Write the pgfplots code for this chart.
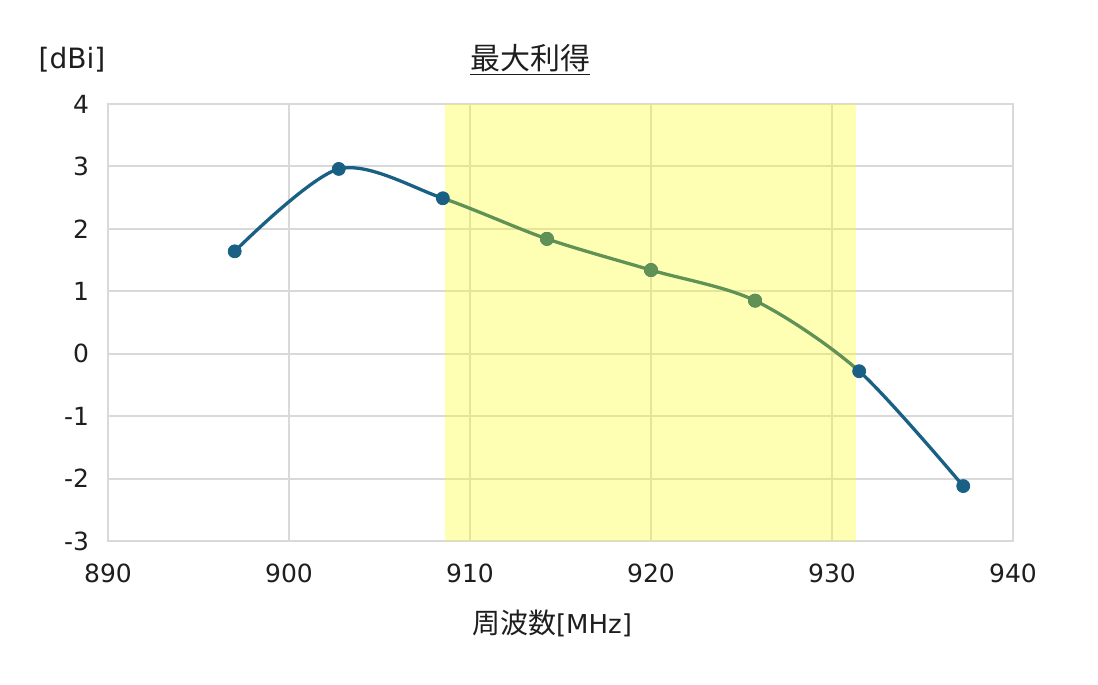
\documentclass[border=0pt]{standalone}
\usepackage{fontspec}
\setmainfont{Noto Sans CJK JP}
\newfontfamily\lat{DejaVu Sans}
\usepackage{pgfplots}
\pgfplotsset{compat=1.18}
\usepackage{pgfplotstable}
\definecolor{cblue}{RGB}{26,96,132}
\definecolor{cgreen}{RGB}{95,146,84}
\definecolor{cshade}{RGB}{255,255,34}
\definecolor{cgrid}{RGB}{217,217,217}
\definecolor{ctext}{RGB}{30,30,30}
\pgfplotstableread{
x y
897 1.64
902.75 2.96
908.5 2.49
914.25 1.84
920 1.34
925.75 0.85
931.5 -0.28
937.25 -2.12
}\gaindata
\pgfplotstableread{
x y
908.6 -3
931.3 -3
931.3 4
908.6 4
}\banddata
\pgfplotsset{
  curveaxis/.style={
    scale only axis, height=218.5pt, ymin=-3, ymax=4,
    axis lines=none, ticks=none, anchor=south west,
  },
}
\begin{document}
\begin{tikzpicture}
\path (-54pt,-72pt) rectangle (495pt,270.5pt);
\begin{axis}[
  scale only axis,
  width=452.5pt, height=218.5pt,
  xmin=890, xmax=940, ymin=-3, ymax=4,
  xtick={890,900,...,940}, ytick={-3,-2,...,4},
  grid=major,
  major grid style={draw=cgrid, line width=1pt},
  axis line style={draw=cgrid, line width=1pt},
  major tick length=0pt,
  tick label style={font=\lat\fontsize{12.5pt}{15pt}\selectfont, text=ctext},
  /pgf/number format/assume math mode=true,
  /pgf/number format/1000 sep={},
  xticklabel style={yshift=-8pt},
  yticklabel style={xshift=-6pt},
]
\addplot[fill=cshade, fill opacity=0.34, draw=none] table {\banddata} -- cycle;
\end{axis}
\begin{axis}[curveaxis, at={(0pt,0pt)}, width=167.425pt, xmin=890, xmax=908.5]
\addplot[cblue, line width=1.65pt, smooth, no marks] table {\gaindata};
\end{axis}
\begin{axis}[curveaxis, at={(167.425pt,0pt)}, width=208.15pt, xmin=908.5, xmax=931.5]
\addplot[cgreen, line width=1.65pt, smooth, no marks] table {\gaindata};
\end{axis}
\begin{axis}[curveaxis, at={(375.575pt,0pt)}, width=76.925pt, xmin=931.5, xmax=940]
\addplot[cblue, line width=1.65pt, smooth, no marks] table {\gaindata};
\end{axis}
\begin{axis}[
  scale only axis,
  width=452.5pt, height=218.5pt,
  xmin=890, xmax=940, ymin=-3, ymax=4,
  axis lines=none, ticks=none, clip=false,
]
\addplot[only marks, mark=*, mark size=3.25pt, cblue, mark options={fill=cblue, draw=cblue}] table {\gaindata};
\addplot[only marks, mark=*, mark size=3.25pt, cgreen, mark options={fill=cgreen, draw=cgreen}, restrict x to domain=910:930] table {\gaindata};
\end{axis}
\node[font=\fontsize{15pt}{18pt}\selectfont, text=ctext] at (211pt,240.5pt) {\underline{最大利得}};
\node[font=\lat\fontsize{14pt}{17pt}\selectfont, text=ctext] at (-18pt,240.5pt) {[dBi]};
\node[font=\fontsize{14pt}{17pt}\selectfont, text=ctext] at (222pt,-41pt) {周波数{\lat\fontsize{13pt}{17pt}\selectfont[MHz]}};
\end{tikzpicture}
\end{document}
